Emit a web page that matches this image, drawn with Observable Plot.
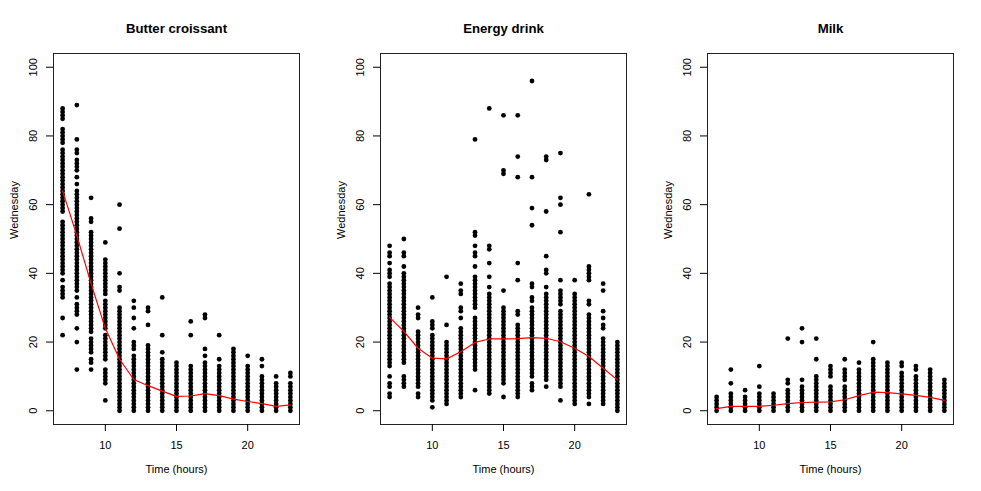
<!DOCTYPE html>
<html><head><meta charset="utf-8">
<script src="https://cdn.jsdelivr.net/npm/d3@7"></script>
<script src="https://cdn.jsdelivr.net/npm/@observablehq/plot@0.6"></script>
<style>body{margin:0;background:#fff}#row{display:flex;width:981px;height:491px}#row svg{display:block}</style>
</head><body><div id="row"></div><script>
const hours = [7, 8, 9, 10, 11, 12, 13, 14, 15, 16, 17, 18, 19, 20, 21, 22, 23];
const panelTitles = ["Butter croissant", "Energy drink", "Milk"];
const yTicks = [0, 20, 40, 60, 80, 100];
const xTicks = [10, 15, 20];
const xLabel = "Time (hours)";
const yLabel = "Wednesday";

// distinct values observed at each hour (one row per hour)
const croissantValues = [
  [22,27,33,34,35,36,38,40,41,42,43,44,45,46,47,48,49,50,51,52,53,54,55,58,59,60,61,62,63,64,65,66,67,68,69,70,71,72,73,74,75,76,78,79,80,81,82,85,86,87,88],
  [12,20,24,28,29,30,31,33,35,36,37,38,39,40,41,42,43,44,45,46,47,48,49,50,51,52,53,54,55,56,57,58,59,60,61,62,63,64,66,68,70,71,72,73,75,76,79,89],
  [12,14,15,17,18,19,20,21,23,24,25,26,27,28,29,30,31,32,33,34,35,36,37,38,39,40,41,42,43,44,45,46,47,48,49,50,51,52,55,56,62],
  [3,8,9,10,11,12,15,16,17,18,19,20,21,22,24,25,26,27,28,29,30,31,32,34,35,36,37,38,39,40,41,42,43,44,49],
  [0,1,2,3,4,5,6,7,8,9,10,11,12,13,14,15,16,17,18,19,20,21,22,23,24,25,26,27,28,29,30,35,36,40,53,60],
  [0,1,2,3,4,5,6,7,8,9,10,11,12,13,14,15,16,18,19,20,24,27,30,32],
  [0,1,2,3,4,5,6,7,8,9,10,11,12,13,14,15,16,17,18,19,25,29,30],
  [0,1,2,3,4,5,6,7,8,9,10,11,12,13,14,15,17,22,33],
  [0,1,2,3,4,5,6,7,8,9,10,11,12,13,14],
  [0,1,2,3,4,5,6,7,8,9,10,11,12,13,22,26],
  [0,1,2,3,4,5,6,7,8,9,10,11,12,13,14,16,18,27,28],
  [0,1,2,3,4,5,6,7,8,9,10,11,12,13,15,22],
  [0,1,2,3,4,5,6,7,8,9,10,11,12,13,14,15,16,17,18],
  [0,1,2,3,4,5,6,7,8,9,10,11,12,13,16],
  [0,1,2,3,4,5,6,7,8,9,10,13,15],
  [0,1,2,3,4,5,6,7,8,10],
  [0,1,2,3,4,5,6,7,8,10,11]
];
const croissantTrend = [64, 51, 37, 24, 15, 9.1, 7.3, 5.7, 4.2, 4.3, 5.0, 4.4, 3.4, 2.7, 2.1, 1.3, 1.7];

const energyValues = [
  [4,5,7,8,10,13,14,15,16,17,18,19,20,21,22,23,24,25,26,27,28,29,30,31,32,33,34,35,36,37,39,40,41,43,45,46,48],
  [7,8,9,10,14,15,16,17,18,19,20,21,22,23,24,25,26,27,28,29,30,31,32,33,34,35,36,37,38,39,40,42,45,46,50],
  [4,5,7,8,9,10,11,12,13,14,15,16,17,18,19,20,21,22,23,27,28,30],
  [1,3,4,5,6,7,8,9,10,11,12,13,14,15,16,17,18,19,20,21,22,24,25,26,33],
  [2,3,4,5,6,7,8,9,10,11,12,13,14,15,16,17,18,19,20,25,39],
  [4,5,6,7,8,9,10,11,12,13,14,15,16,17,18,19,20,21,22,23,24,27,29,30,34,35,37],
  [6,12,13,14,15,16,17,18,19,20,21,22,23,24,25,26,27,30,31,32,33,34,35,36,37,38,39,42,45,46,48,51,52,79],
  [5,6,7,8,9,10,11,12,13,14,15,16,17,18,19,20,21,22,23,24,25,26,27,28,29,30,31,32,33,34,36,39,43,47,48,88],
  [4,8,9,10,11,12,13,14,15,16,17,18,19,20,21,22,23,24,25,26,27,28,29,30,35,69,70,86],
  [4,5,6,7,8,9,10,11,12,13,14,15,16,17,18,19,20,21,22,23,24,25,28,29,38,43,68,74,86],
  [6,7,8,10,11,12,13,14,15,16,17,18,19,20,21,22,23,24,25,26,27,28,29,30,32,33,36,37,54,59,68,96],
  [7,9,10,11,12,13,14,15,16,17,18,19,20,21,22,23,24,25,26,27,28,29,30,31,32,33,34,36,40,41,45,58,73,74],
  [3,7,8,9,10,11,12,13,14,15,16,17,18,19,20,21,22,23,24,25,26,27,28,29,31,32,33,34,35,38,52,60,62,75],
  [2,3,4,5,6,7,8,9,10,11,12,13,14,15,16,17,18,19,20,21,22,23,24,25,26,27,28,29,30,31,32,33,34,38],
  [2,4,5,6,7,8,9,10,11,12,13,14,15,16,17,18,19,20,21,22,23,24,25,26,27,28,31,32,38,39,40,41,42,63],
  [2,3,4,5,6,7,8,9,10,11,12,13,14,15,16,17,18,19,20,21,24,25,27,29,35,37],
  [0,1,2,3,4,5,6,7,8,9,10,11,12,13,14,15,16,17,18,19,20]
];
const energyTrend = [27.2, 23.1, 18.2, 15.3, 15.1, 17.2, 19.9, 20.9, 20.9, 21.0, 21.3, 21.1, 20.1, 18.2, 15.8, 12.4, 9.0];

const milkValues = [
  [0,1,2,3,4],
  [0,1,2,3,4,5,8,12],
  [0,1,2,3,4,6],
  [0,1,2,3,4,5,7,13],
  [0,1,2,3,4,5],
  [0,1,2,3,4,5,6,8,9,21],
  [0,1,2,3,4,5,6,7,9,20,24],
  [0,1,2,3,4,5,6,7,8,9,10,15,21],
  [0,1,2,3,4,5,6,7,10,11,12,13],
  [0,1,2,3,4,5,6,7,9,10,11,12,15],
  [0,1,2,3,4,5,6,7,8,9,10,11,12,14],
  [0,1,2,3,4,5,6,7,8,9,10,11,12,13,14,15,20],
  [0,1,2,3,4,5,6,7,8,9,10,11,12,13,14],
  [0,1,2,3,4,5,6,7,8,9,10,11,13,14],
  [0,1,2,3,4,5,6,7,8,9,10,12,13],
  [0,1,2,3,4,5,6,7,8,9,10,11,12],
  [0,1,2,3,4,5,6,7,8,9]
];
const milkTrend = [0.6, 1.3, 1.3, 1.3, 1.6, 2.1, 2.4, 2.5, 2.6, 3.2, 4.4, 5.4, 5.3, 4.9, 4.5, 3.9, 3.0];

function panel(title, values, trend) {
  const pts = [];
  hours.forEach((h, i) => values[i].forEach(v => pts.push({hour: h, value: v})));
  const line = hours.map((h, i) => ({hour: h, value: trend[i]}));
  return Plot.plot({
    width: 327, height: 491,
    marginLeft: 53, marginRight: 28, marginTop: 53, marginBottom: 67,
    style: {fontFamily: "'Liberation Sans', Arial, Helvetica, sans-serif", fontSize: "11px", color: "black", background: "white"},
    x: {domain: [6.36, 23.64]},
    y: {domain: [-4, 104]},
    marks: [
      Plot.frame({stroke: "#222"}),
      Plot.axisX({ticks: xTicks, tickSize: 7, tickPadding: 10, label: null}),
      Plot.axisY({ticks: yTicks, tickSize: 7, tickPadding: 13, tickRotate: -90, textAnchor: "middle", lineAnchor: "middle", label: null}),
      Plot.dot(pts, {x: "hour", y: "value", r: 2.4, fill: "black"}),
      Plot.line(line, {x: "hour", y: "value", stroke: "red", strokeWidth: 1.2}),
      Plot.text([title], {text: d => d, frameAnchor: "top", dy: -30.3, fontWeight: "bold", fontSize: 13.2}),
      Plot.text([xLabel], {text: d => d, frameAnchor: "bottom", dy: 48.4}),
      Plot.text([yLabel], {text: d => d, frameAnchor: "left", dx: -39.5, rotate: -90})
    ]
  });
}

const row = document.getElementById("row");
row.append(panel(panelTitles[0], croissantValues, croissantTrend));
row.append(panel(panelTitles[1], energyValues, energyTrend));
row.append(panel(panelTitles[2], milkValues, milkTrend));
</script></body></html>
